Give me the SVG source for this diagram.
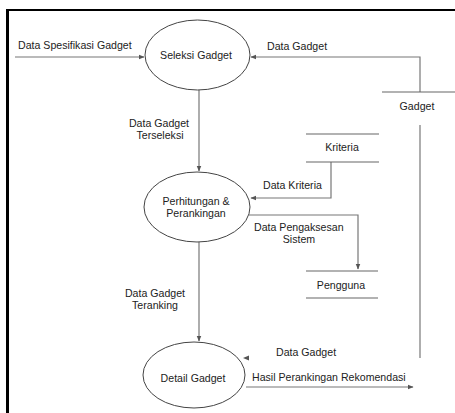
<svg xmlns="http://www.w3.org/2000/svg" width="455" height="413" viewBox="0 0 455 413">
  <style>
    text { font-family: "Liberation Sans", Arial, sans-serif; font-size: 10.6px; fill: #222; }
    .c { text-anchor: middle; }
    .proc { fill: #fff; stroke: #444; stroke-width: 1; }
    .flow { fill: none; stroke: #777; stroke-width: 1.2; }
    .store { stroke: #666; stroke-width: 1.2; }
    .frame { stroke: #000; fill: none; }
  </style>
  <defs>
    <marker id="arr" viewBox="0 0 10 10" refX="9" refY="5" markerWidth="6" markerHeight="6" orient="auto" markerUnits="userSpaceOnUse">
      <path d="M0,1 L10,5 L0,9 z" fill="#555"/>
    </marker>
  </defs>

  <rect width="455" height="413" fill="#fff"/>

  <!-- outer frame -->
  <line class="frame" x1="7" y1="10" x2="455" y2="10" stroke-width="2"/>
  <line class="frame" x1="7.5" y1="9" x2="7.5" y2="413" stroke-width="3"/>

  <!-- data flows -->
  <g id="connectors">
    <path class="flow" d="M15,57 H144" marker-end="url(#arr)"/>
    <path class="flow" d="M420,92 V57 H251" marker-end="url(#arr)"/>
    <path class="flow" d="M420,125 V358"/>
    <path class="flow" d="M199,90 V171" marker-end="url(#arr)"/>
    <path class="flow" d="M331,162 V198 H251" marker-end="url(#arr)"/>
    <path class="flow" d="M249,215 H358 V269" marker-end="url(#arr)"/>
    <path class="flow" d="M199,242 V341" marker-end="url(#arr)"/>
    <path class="flow" d="M246,387 H413" marker-end="url(#arr)"/>
    <path d="M249,355.5 L243,358 L249,360.5 z" fill="#555"/>

    <text x="18" y="49">Data Spesifikasi Gadget</text>
    <text x="267" y="50">Data Gadget</text>
    <text class="c" x="159" y="127">Data Gadget</text>
    <text class="c" x="160" y="139">Terseleksi</text>
    <text x="263" y="189">Data Kriteria</text>
    <text x="254" y="231">Data Pengaksesan</text>
    <text class="c" x="299" y="243">Sistem</text>
    <text class="c" x="155" y="297">Data Gadget</text>
    <text class="c" x="155" y="309">Teranking</text>
    <text x="276" y="356">Data Gadget</text>
    <text x="252" y="381">Hasil Perankingan Rekomendasi</text>
  </g>

  <!-- processes -->
  <g id="seleksi-gadget">
    <ellipse class="proc" cx="197.5" cy="55" rx="52.5" ry="35"/>
    <text class="c" x="196" y="59">Seleksi Gadget</text>
  </g>
  <g id="perhitungan">
    <ellipse class="proc" cx="197" cy="207" rx="53" ry="35"/>
    <text class="c" x="196" y="205">Perhitungan &amp;</text>
    <text class="c" x="196" y="217">Perankingan</text>
  </g>
  <g id="detail-gadget">
    <ellipse class="proc" cx="194" cy="375" rx="51" ry="33"/>
    <text class="c" x="193" y="382">Detail Gadget</text>
  </g>

  <!-- data stores -->
  <g id="store-gadget">
    <line class="store" x1="382" y1="92" x2="455" y2="92"/>
    <text class="c" x="417" y="110">Gadget</text>
  </g>
  <g id="store-kriteria">
    <line class="store" x1="306" y1="134" x2="379" y2="134"/>
    <line class="store" x1="306" y1="162" x2="379" y2="162"/>
    <text class="c" x="342" y="151">Kriteria</text>
  </g>
  <g id="store-pengguna">
    <line class="store" x1="306" y1="271" x2="378" y2="271"/>
    <line class="store" x1="306" y1="298" x2="378" y2="298"/>
    <text class="c" x="341" y="289">Pengguna</text>
  </g>
</svg>
